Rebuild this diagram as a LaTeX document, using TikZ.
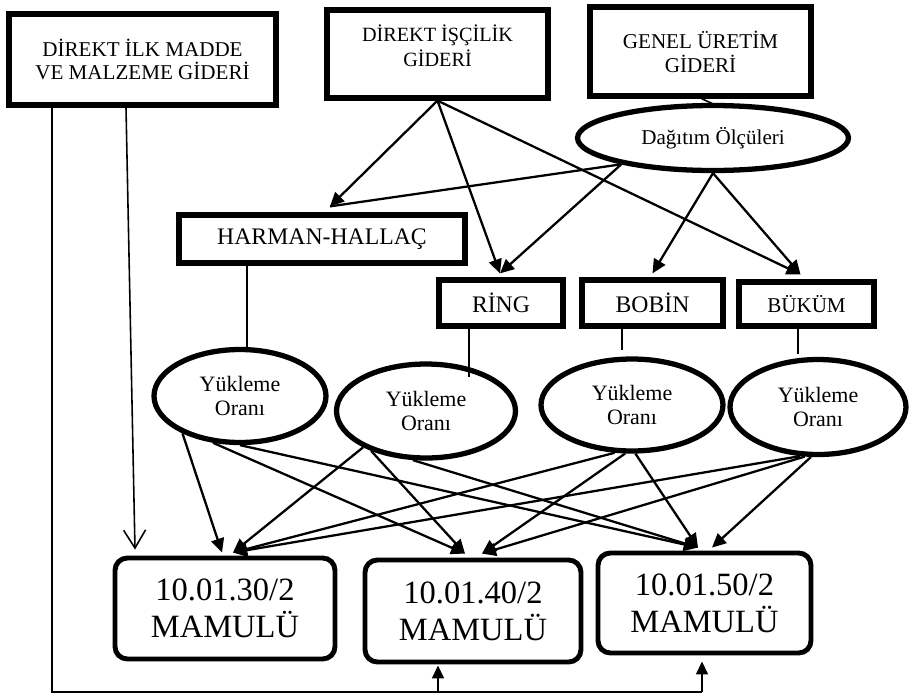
\documentclass[tikz,border=0pt]{standalone}
\usepackage{fontspec}
\setmainfont{Liberation Serif}
\usetikzlibrary{arrows.meta, shapes.geometric, calc}

\begin{document}
\begin{tikzpicture}[
    x=0.02cm, y=-0.02cm,
    font=\fontsize{12}{13.6}\selectfont,
    costbox/.style={draw, line width=3pt, inner sep=0pt, align=center},
    deptbox/.style={draw, line width=3pt, inner sep=0pt, font=\fontsize{13.5}{16}\selectfont},
    oval/.style={ellipse, draw, line width=3pt, inner sep=0pt, align=center, font=\fontsize{12.5}{14}\selectfont},
    prodbox/.style={draw, line width=2.8pt, rounded corners=7pt, inner sep=0pt, align=center, font=\fontsize{18.5}{21}\selectfont},
    fatarrow/.style={-{Triangle[length=2.8mm,width=2.6mm]}, line width=1.3pt},
    link/.style={line width=0.9pt},
    openarrow/.style={-{Straight Barb[length=3.6mm,width=4.4mm]}, line width=0.9pt},
    uparrow/.style={-{Triangle[length=2.6mm,width=2.4mm]}, line width=0.9pt},
]
\useasboundingbox (0,0) rectangle (910,694);

% ===== Cost sources =====
\node[costbox, minimum width=5.34cm, minimum height=1.82cm] (ilk) at (142.5,59.5) {DİREKT İLK MADDE\\VE MALZEME GİDERİ};
\node[costbox, minimum width=4.42cm, minimum height=1.76cm] (isc) at (437.5,54) {};
\node[font=\fontsize{11.5}{14}\selectfont, align=center] (isctext) at (437.5,46) {DİREKT İŞÇİLİK\\GİDERİ};
\node[costbox, minimum width=4.42cm, minimum height=1.78cm] (genel) at (700.5,51.5) {GENEL ÜRETİM\\GİDERİ};
\node[oval, minimum width=5.42cm, minimum height=1.3cm, font=\fontsize{12}{14}\selectfont] (dagitim) at (713,138) {Dağıtım Ölçüleri};
\draw[link] ($(genel.south)+(1,0)$) -- ($(dagitim.north)+(0,1)$);

% ===== Departments =====
\node[deptbox, minimum width=5.72cm, minimum height=0.96cm] (harman) at (322,239) {HARMAN-HALLAÇ};
\node[deptbox, minimum width=2.48cm, minimum height=0.92cm] (ring) at (501,303) {RİNG};
\node[deptbox, minimum width=2.82cm, minimum height=0.92cm] (bobin) at (652.5,303) {BOBİN};
\node[deptbox, minimum width=2.7cm, minimum height=0.88cm, font=\fontsize{12}{14}\selectfont] (bukum) at (806.5,304) {BÜKÜM};

% ===== Load rates =====
\node[oval, minimum width=3.44cm, minimum height=1.86cm] (e1) at (240,396) {Yükleme\\Oranı};
\node[oval, minimum width=3.58cm, minimum height=1.88cm] (e2) at (426,411) {Yükleme\\Oranı};
\node[oval, minimum width=3.64cm, minimum height=1.84cm] (e3) at (632,405) {Yükleme\\Oranı};
\node[oval, minimum width=3.52cm, minimum height=1.9cm] (e4) at (818,407) {Yükleme\\Oranı};

% ===== Products =====
\node[prodbox, minimum width=4.4cm, minimum height=2.02cm] (m1) at (225,608.5) {10.01.30/2\\MAMULÜ};
\node[prodbox, minimum width=4.32cm, minimum height=2.04cm] (m2) at (473,611) {10.01.40/2\\MAMULÜ};
\node[prodbox, minimum width=4.26cm, minimum height=2.0cm] (m3) at (704.5,603) {10.01.50/2\\MAMULÜ};

% labour and overhead into the departments
\coordinate (harmanin) at ($(harman.north)+(8,-6)$);
\coordinate (ringin) at ($(ring.north)+(-1,-4)$);
\coordinate (bukumin) at ($(bukum.north)+(-6,-5)$);
\draw[fatarrow] (isc.south) -- (harmanin);
\draw[link, line width=1.3pt] (dagitim.196) -- (harmanin);
\draw[fatarrow] (isc.south) -- (ringin);
\draw[fatarrow] (dagitim.196) -- (ringin);
\draw[fatarrow] (dagitim.south) -- ($(bobin.north)+(0,-4)$);
\draw[fatarrow] (isc.south) -- (bukumin);
\draw[fatarrow] (dagitim.south) -- (bukumin);

% departments down to their load rates
\draw[link] ($(harman.south)+(-75,0)$) -- ($(e1.north)+(7,0)$);
\draw[link] ($(ring.south)+(-32,0)$) -- ($(e2.north)+(43,16)$);
\draw[link] ($(bobin.south)+(-30.5,-6)$) -- ($(e3.north)+(-10,-6)$);
\draw[link] ($(bukum.south)+(-8.5,0)$) -- ($(e4.north)+(-20,-3)$);

% load rates to products
\coordinate (m1a) at ($(m1.north)+(-3,-3)$);
\coordinate (m1b) at ($(m1.north)+(8,-3)$);
\coordinate (m2a) at ($(m2.north)+(-8,-4)$);
\coordinate (m2b) at ($(m2.north)+(9,-4)$);
\coordinate (m3a) at ($(m3.north)+(-6.5,-3)$);
\coordinate (m3b) at ($(m3.north)+(7.5,-3)$);
\foreach \src/\dst in {e1.213/m1a, e1.240/m2a, e1.south/m3a,
                       e2.210/m1b, e2.216/m2a, e2.255/m3a,
                       e3.250/m1b, e3.262/m2b, e3.274/m3a,
                       e4.250/m1b, e4.255/m2b, e4.262/m3b} {
    \draw[fatarrow] (\src) -- (\dst);
}

% direct material straight to the products
\draw[openarrow] ($(ilk.south)+(-16.5,0)$) -- ($(m1.north)+(-90,-6)$);
\coordinate (busl) at (52,692);
\coordinate (busr) at (702,692);
\draw[link] ($(ilk.south)+(-90.5,0)$) -- (busl) -- (busr);
\coordinate (m2in) at ($(m2.south)+(-35,1)$);
\coordinate (m3in) at ($(m3.south)+(-2.5,6)$);
\draw[uparrow] (m2in |- busl) -- (m2in);
\draw[uparrow] (busr) -- (m3in);

\end{tikzpicture}
\end{document}
